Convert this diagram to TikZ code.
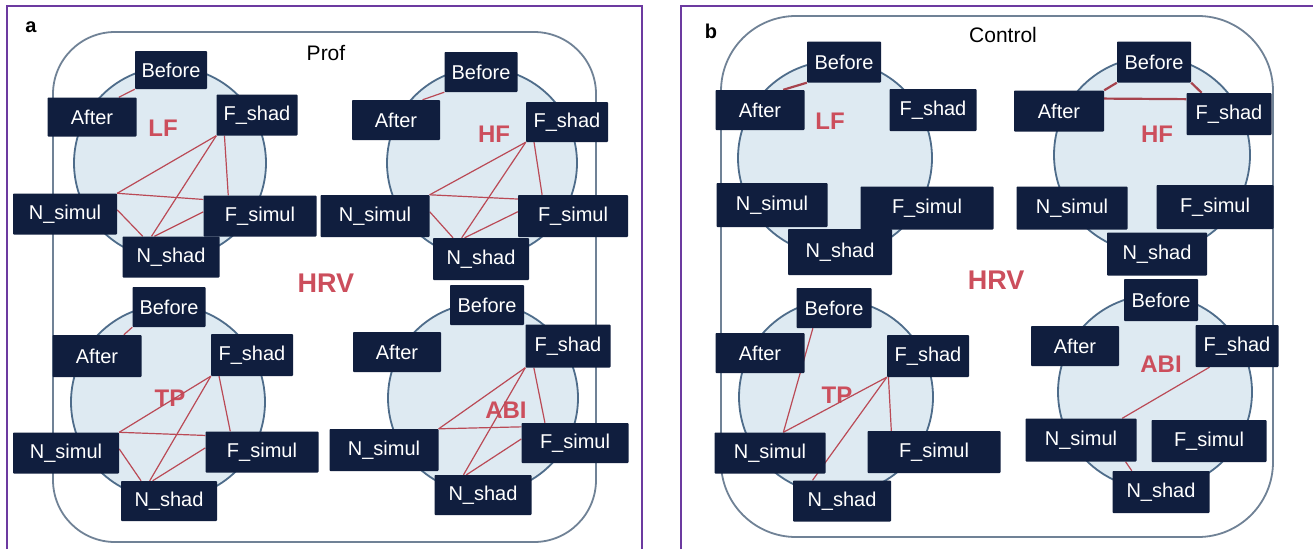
\documentclass[tikz,border=0pt]{standalone}
\usepackage{fontspec}
\setmainfont{Liberation Sans}
\usetikzlibrary{calc}
\definecolor{navy}{RGB}{16,30,62}
\definecolor{frame}{RGB}{108,58,160}
\definecolor{outer}{RGB}{112,130,150}
\definecolor{circ}{RGB}{78,108,138}
\definecolor{circfill}{RGB}{222,234,242}
\definecolor{lblred}{RGB}{204,78,92}
\definecolor{linkred}{RGB}{186,74,86}
\pgfdeclarelayer{bg}
\pgfdeclarelayer{edges}
\pgfsetlayers{bg,edges,main}
\newcommand\profedges[1]{%
  \draw[link] (#1fs.south west) -- (#1ns.north east);
  \draw[link] (#1fs.south west) -- ($(#1nh.north west)!0.3!(#1nh.north east)$);
  \draw[link] ($(#1fs.south west)!0.1!(#1fs.south east)$) -- ($(#1fi.north west)!0.22!(#1fi.north east)$);
  \draw[link] (#1ns.north east) -- ($(#1fi.north west)!0.1!(#1fi.south west)$);
  \draw[link] ($(#1nh.north west)!0.33!(#1nh.north east)$) -- ($(#1fi.north west)!0.4!(#1fi.south west)$);
}
\newcommand\extraedges[1]{%
  \draw[link] ($(#1ns.north east)!0.4!(#1ns.south east)$) -- ($(#1nh.north west)!0.21!(#1nh.north east)$);
  \draw[link] (#1b.south west) -- ($(#1a.north west)!0.8!(#1a.north east)$);
}
\begin{document}
\begin{tikzpicture}[x=1pt,y=-1pt,
  box/.style={fill=navy, text=white, inner sep=0pt, rounded corners=0.8pt,
    font=\fontsize{20}{24}\selectfont},
  grp/.style={text=lblred, font=\fontsize{24}{28}\selectfont\bfseries, inner sep=0pt},
  hrv/.style={text=lblred, font=\fontsize{27}{30}\selectfont\bfseries, inner sep=0pt},
  ttl/.style={text=black, font=\fontsize{21}{24}\selectfont, inner sep=0pt},
  letter/.style={text=black, font=\fontsize{20}{24}\selectfont\bfseries, inner sep=0pt},
  link/.style={draw=linkred, line width=1.2pt},
  thicklink/.style={draw=linkred!90!black, line width=2.2pt},
  ring/.style={draw=circ, fill=circfill, line width=1.8pt},
  panelbox/.style={draw=outer, line width=1.8pt},
  panelframe/.style={draw=frame, line width=2.5pt}]
\useasboundingbox (0,0) rectangle (1313,549);

\begin{pgfonlayer}{bg}
  \fill[white] (0,0) rectangle (1313,549);
  \draw[panelframe] (7,549) -- (7,6) -- (642,6) -- (642,549);
  \draw[panelframe] (681,549) -- (681,6) -- (1313,6);
  \draw[panelbox, rounded corners=62pt] (53,32) rectangle (596,542);
  \draw[panelbox, rounded corners=75pt] (721,16) rectangle (1273,537);
  % circles panel a
  \draw[ring] (170,163) circle (96);
  \draw[ring] (482,163) circle (95);
  \draw[ring] (168,402) circle (97);
  \draw[ring] (483,398) circle (95);
  % circles panel b
  \draw[ring] (835,158) circle (97);
  \draw[ring] (1152,155) circle (98);
  \draw[ring] (836,397) circle (97);
  \draw[ring] (1155,392) circle (97);
  % group labels
  \node[grp] (gaL) at (163,128) {LF};
  \node[grp] (gaH) at (494,134) {HF};
  \node[grp] (gaT) at (170,398) {TP};
  \node[grp] (gaA) at (506,410) {ABI};
  \node[grp] (gbL) at (830,121) {LF};
  \node[grp] (gbH) at (1157,134) {HF};
  \node[grp] (gbT) at (837,395) {TP};
  \node[grp] (gbA) at (1161,364) {ABI};
  \node[hrv] (hrva) at (326,283) {HRV};
  \node[hrv] (hrvb) at (996,280) {HRV};
  \node[ttl] (prof) at (326,53) {Prof};
  \node[ttl] (ctrl) at (1003,35) {Control};
  \node[letter] (la) at (31,27) {a};
  \node[letter] (lb) at (711,31) {b};
\end{pgfonlayer}

% ---------- panel a : LF ----------
\node[box, minimum width=72pt, minimum height=38pt] (aLb) at (171,70) {Before};
\node[box, minimum width=89pt, minimum height=39pt] (aLa) at (92,117) {After};
\node[box, minimum width=81pt, minimum height=41pt] (aLfs) at (257,115) {F\_shad};
\node[box, minimum width=104pt, minimum height=41pt] (aLns) at (65,214) {N\_simul};
\node[box, minimum width=113pt, minimum height=41pt] (aLfi) at (260,216) {F\_simul};
\node[box, minimum width=97pt, minimum height=41pt] (aLnh) at (171,257) {N\_shad};
% ---------- panel a : HF ----------
\node[box, minimum width=73pt, minimum height=40pt] (aHb) at (481,72) {Before};
\node[box, minimum width=88pt, minimum height=40pt] (aHa) at (396,120) {After};
\node[box, minimum width=82pt, minimum height=40pt] (aHfs) at (567,122) {F\_shad};
\node[box, minimum width=109pt, minimum height=42pt] (aHns) at (375,216) {N\_simul};
\node[box, minimum width=110pt, minimum height=42pt] (aHfi) at (573,216) {F\_simul};
\node[box, minimum width=96pt, minimum height=42pt] (aHnh) at (481,259) {N\_shad};
% ---------- panel a : TP ----------
\node[box, minimum width=73pt, minimum height=40pt] (aTb) at (169,307) {Before};
\node[box, minimum width=89pt, minimum height=42pt] (aTa) at (97,356) {After};
\node[box, minimum width=82pt, minimum height=42pt] (aTfs) at (252,355) {F\_shad};
\node[box, minimum width=106pt, minimum height=41pt] (aTns) at (66,453) {N\_simul};
\node[box, minimum width=113pt, minimum height=41pt] (aTfi) at (262,452) {F\_simul};
\node[box, minimum width=96pt, minimum height=40pt] (aTnh) at (169,501) {N\_shad};
% ---------- panel a : ABI ----------
\node[box, minimum width=74pt, minimum height=40pt] (aAb) at (487,305) {Before};
\node[box, minimum width=88pt, minimum height=40pt] (aAa) at (397,352) {After};
\node[box, minimum width=85pt, minimum height=43pt] (aAfs) at (568,346) {F\_shad};
\node[box, minimum width=109pt, minimum height=42pt] (aAns) at (384,450) {N\_simul};
\node[box, minimum width=107pt, minimum height=40pt] (aAfi) at (575,443) {F\_simul};
\node[box, minimum width=97pt, minimum height=40pt] (aAnh) at (483,495) {N\_shad};
% ---------- panel b : LF ----------
\node[box, minimum width=74pt, minimum height=41pt] (bLb) at (844,62) {Before};
\node[box, minimum width=89pt, minimum height=40pt] (bLa) at (760,110) {After};
\node[box, minimum width=87pt, minimum height=42pt] (bLfs) at (933,110) {F\_shad};
\node[box, minimum width=111pt, minimum height=44pt] (bLns) at (772,205) {N\_simul};
\node[box, minimum width=133pt, minimum height=43pt] (bLfi) at (927,208) {F\_simul};
\node[box, minimum width=104pt, minimum height=46pt] (bLnh) at (840,252) {N\_shad};
% ---------- panel b : HF ----------
\node[box, minimum width=74pt, minimum height=41pt] (bHb) at (1154,62) {Before};
\node[box, minimum width=90pt, minimum height=41pt] (bHa) at (1059,111) {After};
\node[box, minimum width=85pt, minimum height=42pt] (bHfs) at (1229,114) {F\_shad};
\node[box, minimum width=111pt, minimum height=43pt] (bHns) at (1072,208) {N\_simul};
\node[box, minimum width=117pt, minimum height=44pt] (bHfi) at (1215,207) {F\_simul};
\node[box, minimum width=100pt, minimum height=43pt] (bHnh) at (1157,254) {N\_shad};
% ---------- panel b : TP ----------
\node[box, minimum width=75pt, minimum height=40pt] (bTb) at (834,308) {Before};
\node[box, minimum width=89pt, minimum height=40pt] (bTa) at (760,353) {After};
\node[box, minimum width=82pt, minimum height=42pt] (bTfs) at (928,356) {F\_shad};
\node[box, minimum width=111pt, minimum height=41pt] (bTns) at (770,453) {N\_simul};
\node[box, minimum width=133pt, minimum height=42pt] (bTfi) at (934,452) {F\_simul};
\node[box, minimum width=98pt, minimum height=41pt] (bTnh) at (842,501) {N\_shad};
% ---------- panel b : ABI ----------
\node[box, minimum width=74pt, minimum height=42pt] (bAb) at (1161,300) {Before};
\node[box, minimum width=88pt, minimum height=40pt] (bAa) at (1075,346) {After};
\node[box, minimum width=83pt, minimum height=42pt] (bAfs) at (1237,346) {F\_shad};
\node[box, minimum width=111pt, minimum height=43pt] (bAns) at (1081,440) {N\_simul};
\node[box, minimum width=115pt, minimum height=42pt] (bAfi) at (1209,441) {F\_simul};
\node[box, minimum width=97pt, minimum height=42pt] (bAnh) at (1161,492) {N\_shad};

\begin{pgfonlayer}{edges}
  % panel a
  \profedges{aL}\extraedges{aL}
  \profedges{aH}\extraedges{aH}
  \profedges{aT}\extraedges{aT}
  \profedges{aA}
  % panel b : LF
  \draw[thicklink] (bLb.south west) -- ($(bLa.north west)!0.76!(bLa.north east)$);
  % panel b : HF
  \draw[thicklink] (bHb.south west) -- (bHa.north east);
  \draw[thicklink] (bHb.south east) -- ($(bHfs.north west)!0.18!(bHfs.north east)$);
  \draw[thicklink] ($(bHa.north east)!0.2!(bHa.south east)$) -- ($(bHfs.north west)!0.15!(bHfs.south west)$);
  % panel b : TP
  \draw[link] ($(bTb.south west)!0.22!(bTb.south east)$) -- ($(bTns.north west)!0.62!(bTns.north east)$);
  \draw[link] (bTfs.south west) -- ($(bTns.north west)!0.62!(bTns.north east)$);
  \draw[link] (bTfs.south west) -- ($(bTnh.north west)!0.2!(bTnh.north east)$);
  \draw[link] ($(bTfs.south west)!0.02!(bTfs.south east)$) -- ($(bTfi.north west)!0.18!(bTfi.north east)$);
  % panel b : ABI
  \draw[link] ($(bAfs.south west)!0.17!(bAfs.south east)$) -- ($(bAns.north west)!0.87!(bAns.north east)$);
  \draw[link] ($(bAns.south west)!0.9!(bAns.south east)$) -- ($(bAnh.north west)!0.2!(bAnh.north east)$);
\end{pgfonlayer}
\end{tikzpicture}
\end{document}
